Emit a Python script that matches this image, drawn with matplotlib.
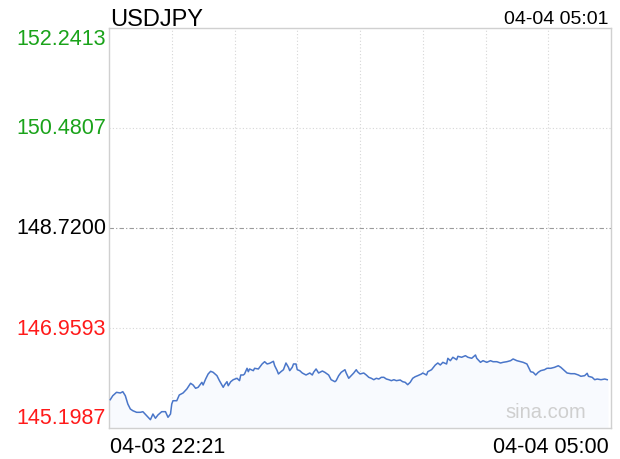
import numpy as np
import matplotlib
matplotlib.use('Agg')
import matplotlib.pyplot as plt

plt.rcParams['font.family'] = ['Liberation Sans', 'DejaVu Sans']

SYMBOL = 'USDJPY'
UPDATE_TIME = '04-04 05:01'
X_LABELS = ['04-03 22:21', '04-04 05:00']
PREV_CLOSE = 148.7200
Y_TICKS = [145.1987, 146.9593, 148.7200, 150.4807, 152.2413]

# minutes since 22:21
minutes = [1, 3, 6, 9, 11, 13, 15, 17, 19, 22, 25, 27, 30, 33, 35, 37, 39, 42, 45, 47,
           49, 50, 51, 54, 56, 59, 62, 65, 67, 69, 71, 74, 75, 77, 79, 81, 83, 86, 88, 91,
           92, 94, 95, 97, 99, 102, 104, 105, 107, 108, 110, 111, 112, 115, 116, 119, 122, 124, 126, 128,
           131, 132, 134, 135, 137, 139, 141, 143, 144, 146, 147, 149, 150, 152, 154, 157, 160, 162, 163, 165,
           167, 170, 172, 175, 177, 180, 181, 183, 185, 188, 189, 191, 193, 195, 197, 198, 200, 203, 205, 207,
           209, 211, 213, 215, 217, 219, 221, 223, 225, 227, 229, 232, 234, 236, 238, 240, 242, 244, 246, 249,
           250, 253, 254, 257, 260, 262, 264, 266, 269, 270, 272, 274, 277, 278, 281, 284, 286, 289, 292, 293,
           296, 298, 301, 304, 306, 309, 312, 314, 317, 320, 322, 325, 328, 330, 333, 335, 336, 338, 340, 342,
           344, 347, 349, 352, 355, 358, 360, 363, 365, 368, 371, 374, 376, 379, 381, 382, 385, 387, 389, 392,
           395, 397]
prices = [145.697, 145.767, 145.827, 145.815, 145.838, 145.767, 145.621, 145.533, 145.503, 145.475,
          145.475, 145.486, 145.415, 145.345, 145.445, 145.370, 145.428, 145.486, 145.486, 145.387,
          145.445, 145.621, 145.679, 145.679, 145.780, 145.815, 145.885, 145.986, 145.956, 145.898,
          145.915, 146.003, 145.956, 146.061, 146.150, 146.197, 146.179, 146.120, 146.032, 145.915,
          145.956, 146.014, 145.943, 146.014, 146.049, 146.074, 146.032, 146.132, 146.132, 146.150,
          146.250, 146.190, 146.238, 146.208, 146.250, 146.238, 146.326, 146.366, 146.326, 146.338,
          146.373, 146.296, 146.208, 146.150, 146.190, 146.225, 146.343, 146.267, 146.208, 146.267,
          146.326, 146.326, 146.225, 146.208, 146.167, 146.132, 146.167, 146.132, 146.179, 146.238,
          146.167, 146.202, 146.179, 146.132, 146.049, 146.014, 146.032, 146.120, 146.179, 146.225,
          146.167, 146.074, 146.120, 146.167, 146.225, 146.190, 146.150, 146.167, 146.132, 146.091,
          146.074, 146.049, 146.074, 146.061, 146.091, 146.091, 146.061, 146.049, 146.032, 146.049,
          146.032, 146.044, 146.014, 146.003, 145.961, 146.003, 146.074, 146.102, 146.120, 146.150,
          146.167, 146.132, 146.190, 146.225, 146.308, 146.343, 146.308, 146.355, 146.326, 146.426,
          146.384, 146.444, 146.401, 146.461, 146.444, 146.472, 146.444, 146.426, 146.484, 146.426,
          146.355, 146.384, 146.355, 146.384, 146.366, 146.366, 146.343, 146.355, 146.366, 146.384,
          146.414, 146.384, 146.366, 146.355, 146.326, 146.238, 146.190, 146.179, 146.132, 146.179,
          146.208, 146.225, 146.250, 146.250, 146.267, 146.295, 146.267, 146.208, 146.167, 146.155,
          146.155, 146.132, 146.109, 146.120, 146.162, 146.109, 146.091, 146.049, 146.061, 146.049,
          146.061, 146.049]

fig = plt.figure(figsize=(6.2, 4.6), dpi=100)
ax = fig.add_axes([109 / 620, 31 / 460, 502 / 620, 400 / 460])

x = np.array(minutes)
y = np.array(prices)

# very faint fill under the line
ax.fill_between(x, y, Y_TICKS[0], color='#f8fafe', zorder=1)
ax.plot(x, y, color='#4a76c9', linewidth=1.1, zorder=3)

ax.set_xlim(0, 400)
ax.set_ylim(Y_TICKS[0], Y_TICKS[-1])

# grid
for gx in range(50, 400, 50):
    ax.axvline(gx, color='#d6d6d6', linestyle=(0, (1, 2)), linewidth=0.8, zorder=0)
for gy in Y_TICKS[1:-1]:
    if gy == PREV_CLOSE:
        ax.axhline(gy, color='#9a9a9a', linestyle=(0, (4, 2, 1, 2)), linewidth=0.8, zorder=0)
    else:
        ax.axhline(gy, color='#d6d6d6', linestyle=(0, (1, 2)), linewidth=0.8, zorder=0)

for sp in ax.spines.values():
    sp.set_color('#d0d0d0')
    sp.set_linewidth(1.0)

ax.set_xticks([])
ax.set_yticks([])

# y labels
colors = ['#ff1a1a', '#ff1a1a', '#000000', '#1aa31a', '#1aa31a']
for i, v in enumerate(Y_TICKS):
    va = 'center'
    if i == 0:
        va = 'bottom'
    elif i == len(Y_TICKS) - 1:
        va = 'top'
    ax.text(-0.006, v, '%.4f' % v, transform=ax.get_yaxis_transform(),
            ha='right', va=va, fontsize=15.5, color=colors[i])

# x labels
ax.text(0.002, -0.047, X_LABELS[0], transform=ax.transAxes, ha='left', va='center', fontsize=15.5)
ax.text(0.996, -0.047, X_LABELS[1], transform=ax.transAxes, ha='right', va='center', fontsize=15.5)

# header
ax.text(0.002, 1.023, SYMBOL, transform=ax.transAxes, ha='left', va='center', fontsize=17)
ax.text(0.996, 1.023, UPDATE_TIME, transform=ax.transAxes, ha='right', va='center', fontsize=14)

ax.text(0.95, 0.04, 'sina.com', transform=ax.transAxes, ha='right', va='center',
        fontsize=14.5, color='#cfcfcf')

fig.savefig('out.png', dpi=100)
